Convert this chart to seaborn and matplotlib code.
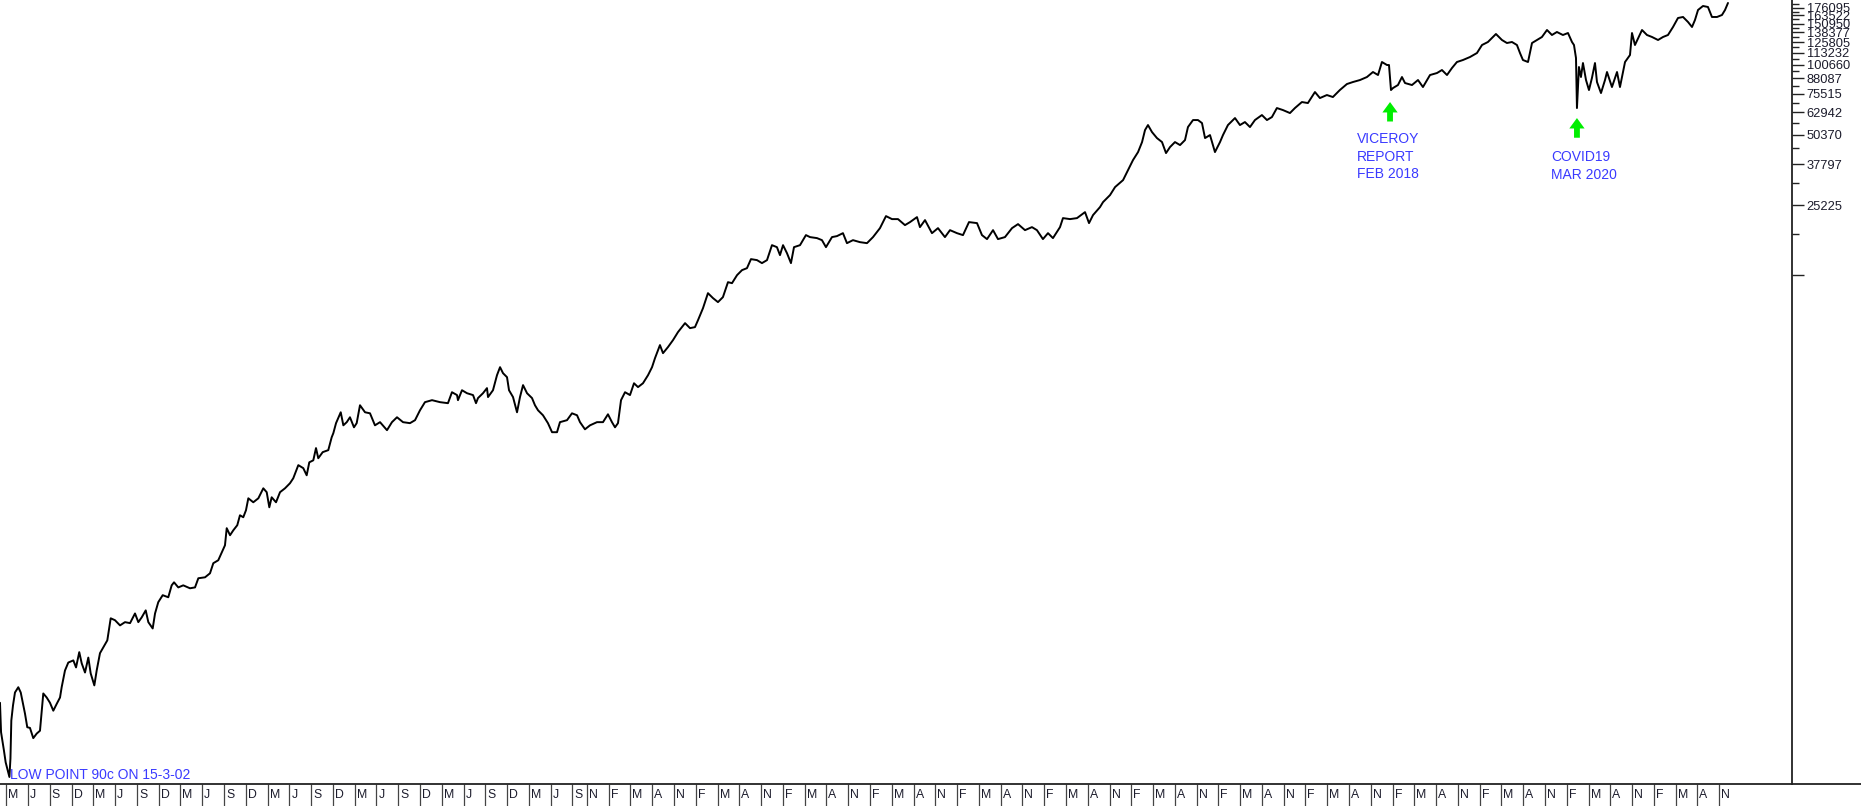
import matplotlib
matplotlib.use("Agg")
import pandas as pd
import matplotlib.pyplot as plt
import matplotlib.transforms as mtransforms
from matplotlib.lines import Line2D
from matplotlib.ticker import FixedLocator, FixedFormatter, NullFormatter
import seaborn as sns

# share price in cents (x = decimal year)
years_0206 = [2002.095, 2002.107, 2002.140, 2002.160, 2002.203, 2002.215, 2002.225, 2002.244, 2002.267, 2002.305,
              2002.333, 2002.363, 2002.382, 2002.408, 2002.439, 2002.477, 2002.516, 2002.554, 2002.574, 2002.592,
              2002.631, 2002.669, 2002.707, 2002.746, 2002.784, 2002.803, 2002.841, 2002.879, 2002.937, 2002.968,
              2003.005, 2003.033, 2003.071, 2003.109, 2003.136, 2003.178, 2003.205, 2003.243, 2003.281, 2003.327,
              2003.366, 2003.415, 2003.473, 2003.530, 2003.588, 2003.645, 2003.683, 2003.722, 2003.768, 2003.798,
              2003.848, 2003.875, 2003.912, 2003.963, 2004.027, 2004.066, 2004.093, 2004.142, 2004.199, 2004.276,
              2004.334, 2004.372, 2004.449, 2004.506, 2004.544, 2004.601, 2004.652, 2004.678, 2004.698, 2004.736,
              2004.774, 2004.819, 2004.850, 2004.888, 2004.919, 2004.946, 2005.003, 2005.061, 2005.118, 2005.157,
              2005.187, 2005.214, 2005.264, 2005.310, 2005.367, 2005.424, 2005.462, 2005.520, 2005.577, 2005.616,
              2005.646, 2005.692, 2005.723, 2005.749, 2005.800, 2005.864, 2005.903, 2005.922, 2005.953, 2006.007,
              2006.037, 2006.076, 2006.113, 2006.159, 2006.190, 2006.228]
price_0206 = [187, 140, 117, 104, 90, 108, 157, 182, 207, 218,
              207, 182, 168, 147, 146, 132, 138, 142, 173, 205,
              197, 187, 173, 185, 197, 218, 257, 278, 284, 265,
              308, 276, 252, 292, 250, 222, 257, 305, 323, 346,
              430, 422, 401, 414, 410, 451, 414, 434, 465, 414,
              389, 451, 504, 540, 529, 595, 613, 583, 595, 578,
              583, 638, 644, 670, 740, 762, 841, 883, 1045, 975,
              1024, 1076, 1187, 1164, 1247, 1403, 1349, 1403, 1548, 1490,
              1284, 1417, 1349, 1490, 1548, 1627, 1709, 1945, 1888, 1760,
              2000, 2040, 2301, 2082, 2211, 2255, 2559, 2665, 2942, 3275,
              2880, 2971, 3118, 2824, 2942, 3510]

years_0610 = [2006.286, 2006.343, 2006.400, 2006.458, 2006.538, 2006.595, 2006.653, 2006.722, 2006.802, 2006.860,
              2006.917, 2006.974, 2007.055, 2007.147, 2007.238, 2007.284, 2007.342, 2007.353, 2007.399, 2007.457,
              2007.526, 2007.560, 2007.583, 2007.640, 2007.686, 2007.698, 2007.755, 2007.801, 2007.836, 2007.870,
              2007.916, 2007.939, 2007.985, 2008.031, 2008.065, 2008.100, 2008.146, 2008.203, 2008.237, 2008.272,
              2008.329, 2008.386, 2008.433, 2008.490, 2008.524, 2008.605, 2008.662, 2008.720, 2008.754, 2008.811,
              2008.869, 2008.949, 2009.018, 2009.075, 2009.121, 2009.156, 2009.190, 2009.225, 2009.271, 2009.328,
              2009.374, 2009.420, 2009.477, 2009.535, 2009.581, 2009.615, 2009.672, 2009.707, 2009.764, 2009.822,
              2009.879, 2009.960, 2010.017, 2010.074, 2010.109, 2010.166, 2010.223, 2010.281, 2010.338, 2010.395,
              2010.453]
price_0610 = [3275, 3242, 2880, 2971, 2745, 2971, 3118, 2971, 2942, 3030,
              3340, 3618, 3690, 3618, 3582, 3991, 3880, 3690, 4070, 3951,
              3880, 3582, 3767, 3951, 4155, 3804, 4070, 4720, 5108, 4815,
              4628, 4070, 3804, 3275, 3804, 4280, 3951, 3767, 3510, 3340,
              3180, 2942, 2691, 2691, 2971, 3030, 3242, 3180, 2971, 2769,
              2880, 2971, 2971, 3211, 2971, 2824, 2942, 3690, 3991, 3880,
              4359, 4197, 4359, 4720, 5108, 5582, 6350, 5864, 6226, 6670,
              7217, 7883, 7504, 7579, 8120, 9135, 10592, 10087, 9697, 10187,
              11805]

years_1014 = [2010.499, 2010.557, 2010.614, 2010.671, 2010.717, 2010.786, 2010.843, 2010.901, 2010.958, 2011.015,
              2011.050, 2011.085, 2011.130, 2011.176, 2011.211, 2011.280, 2011.348, 2011.395, 2011.475, 2011.532,
              2011.578, 2011.647, 2011.704, 2011.773, 2011.819, 2011.888, 2011.968, 2012.049, 2012.118, 2012.198,
              2012.267, 2012.336, 2012.405, 2012.485, 2012.543, 2012.623, 2012.657, 2012.715, 2012.795, 2012.864,
              2012.944, 2013.002, 2013.082, 2013.151, 2013.220, 2013.312, 2013.369, 2013.427, 2013.496, 2013.553,
              2013.633, 2013.714, 2013.783, 2013.863, 2013.943, 2014.000, 2014.069, 2014.127, 2014.184, 2014.265,
              2014.299, 2014.380, 2014.460, 2014.552, 2014.598, 2014.644, 2014.724]
price_1014 = [11688, 12650, 13290, 13552, 14814, 14670, 14242, 14670, 17000, 16669,
              15410, 17000, 15717, 14242, 16669, 17000, 18770, 18404, 18222, 17860,
              16669, 18404, 18584, 19134, 17338, 17860, 17512, 17338, 18404, 20105,
              22634, 21975, 21975, 20710, 21336, 22414, 20306, 21760, 19134, 20105,
              18404, 19710, 19134, 18770, 21336, 21125, 18770, 18044, 19710, 18044,
              18404, 20105, 20918, 19710, 20306, 19710, 18044, 19134, 18222, 20306,
              22192, 21975, 22192, 23542, 21125, 22860, 24733]

years_1418 = [2014.759, 2014.839, 2014.897, 2014.989, 2015.046, 2015.103, 2015.161, 2015.207, 2015.241, 2015.275,
              2015.321, 2015.378, 2015.436, 2015.482, 2015.528, 2015.585, 2015.643, 2015.700, 2015.734, 2015.792,
              2015.849, 2015.895, 2015.930, 2015.987, 2016.044, 2016.102, 2016.136, 2016.193, 2016.274, 2016.331,
              2016.388, 2016.446, 2016.503, 2016.583, 2016.641, 2016.698, 2016.755, 2016.824, 2016.905, 2016.962,
              2017.042, 2017.111, 2017.192, 2017.249, 2017.329, 2017.398, 2017.478, 2017.559, 2017.628, 2017.709,
              2017.789, 2017.858, 2017.916, 2017.961, 2018.019, 2018.042, 2018.065, 2018.088, 2018.145, 2018.191,
              2018.226, 2018.306, 2018.375, 2018.432, 2018.513, 2018.593, 2018.650, 2018.708, 2018.765, 2018.822,
              2018.891, 2018.972, 2019.052, 2019.110, 2019.178]
price_1418 = [25983, 27840, 30126, 32278, 35624, 39315, 42543, 46952, 52848, 55519,
              51818, 48837, 46952, 42122, 44693, 46952, 45582, 47886, 54437, 58325,
              58325, 56622, 48837, 50306, 42543, 46952, 50306, 55519, 59484, 55519,
              57187, 54437, 58325, 61273, 58325, 60078, 65648, 64370, 62490, 65648,
              69656, 68966, 76874, 72452, 74631, 73176, 78403, 83180, 84842, 86529,
              89129, 93634, 90902, 103338, 100322, 100322, 78403, 79961, 82366, 89129,
              84002, 82366, 86529, 80760, 90902, 92707, 95496, 90902, 97393, 103338,
              105393, 108560, 112919, 122193, 125866]

years_1921 = [2019.270, 2019.339, 2019.396, 2019.454, 2019.511, 2019.546, 2019.580, 2019.638, 2019.684, 2019.741,
              2019.798, 2019.856, 2019.913, 2019.970, 2020.039, 2020.097, 2020.143, 2020.166, 2020.189, 2020.200,
              2020.212, 2020.223, 2020.246, 2020.269, 2020.304, 2020.338, 2020.372, 2020.407, 2020.430, 2020.476,
              2020.522, 2020.545, 2020.602, 2020.660, 2020.694, 2020.752, 2020.809, 2020.832, 2020.866, 2020.947,
              2021.004, 2021.062, 2021.131, 2021.188, 2021.245, 2021.303, 2021.360, 2021.418, 2021.475, 2021.521,
              2021.555, 2021.590, 2021.647, 2021.704, 2021.750, 2021.808, 2021.865, 2021.900, 2021.934]
price_1921 = [136190, 128369, 124620, 125866, 122193, 112919, 105393, 103338, 124620, 128369,
              132228, 141672, 134857, 138910, 134857, 137535, 125866, 122193, 107486, 65648,
              80760, 98366, 89129, 102315, 86529, 78403, 88248, 102315, 84842, 76114,
              86529, 93634, 80760, 93634, 80760, 103338, 110719, 137535, 122193, 141672,
              134857, 132228, 128369, 132228, 134857, 145931, 159460, 161054, 153306, 145931,
              156355, 172558, 179485, 177745, 161054, 161054, 164257, 172558, 184887]

# right-hand price scale
ytick_major = [12652, 25225, 37797, 50370, 62942, 75515, 88087, 100660, 113232,
               125805, 138377, 150950, 163522, 176095]
ytick_labels = ["", "25225", "37797", "50370", "62942", "75515", "88087", "100660", "113232",
                "125805", "138377", "150950", "163522", "176095"]
ytick_minor = [18938, 31511, 44084, 56656, 69229, 81801, 94374, 106946, 119519,
               132091, 144664, 157236, 169809, 182381]

# month separators along the bottom
month_letter = {2: "F", 3: "M", 5: "M", 6: "J", 8: "A", 9: "S", 11: "N", 12: "D"}
tick_months = ([(y, m) for y in range(2002, 2008) for m in (3, 6, 9, 12)]
               + [(2008, 3), (2008, 6), (2008, 9), (2008, 11)]
               + [(y, m) for y in range(2009, 2022) for m in (2, 5, 8, 11)])

df = pd.DataFrame({
    "year": years_0206 + years_0610 + years_1014 + years_1418 + years_1921,
    "price": price_0206 + price_0610 + price_1014 + price_1418 + price_1921,
})

sns.set_style("white")
plt.rcParams["font.family"] = ["Liberation Sans", "DejaVu Sans"]

W, H = 1861, 806
fig = plt.figure(figsize=(W / 100, H / 100), dpi=100)
ax = fig.add_axes([0, 22 / H, 1792 / W, 784 / H])

sns.lineplot(data=df, x="year", y="price", ax=ax, color="black", lw=1.4,
             estimator=None, sort=False, legend=False)

ax.set_yscale("log")
ax.set_ylim(84, 190400)
ax.set_xlim(2002.095, 2022.669)
ax.set_xlabel("")
ax.set_ylabel("")

for s in ("left", "top"):
    ax.spines[s].set_visible(False)
for s in ("right", "bottom"):
    ax.spines[s].set_color("#222222")
    ax.spines[s].set_linewidth(1.3)
fig.add_artist(Line2D([1792 / W, 1], [22 / H, 22 / H], color="#222222", lw=1.3))

# y axis on the right
ax.yaxis.tick_right()
ax.yaxis.set_major_locator(FixedLocator(ytick_major))
ax.yaxis.set_major_formatter(FixedFormatter(ytick_labels))
ax.yaxis.set_minor_locator(FixedLocator(ytick_minor))
ax.yaxis.set_minor_formatter(NullFormatter())
ax.tick_params(axis="y", which="both", right=True, left=False)
ax.tick_params(axis="y", which="major", direction="out", length=8.6, width=1.0,
               color="#222222", pad=2, labelsize=9.3, labelcolor="#1c1c2c")
ax.tick_params(axis="y", which="minor", direction="out", length=5, width=1.0, color="#222222")

# x axis: month letters in boxes
tick_pos = [y + (m - 1) / 12 for y, m in tick_months]
ax.set_xticks(tick_pos)
ax.set_xticklabels([month_letter[m] for _, m in tick_months])
ax.xaxis.set_minor_formatter(NullFormatter())
ax.tick_params(axis="x", which="major", bottom=True, direction="out", length=15.8, width=0.9,
               color="#444444", pad=-12, labelsize=8.8, labelcolor="#1c1c2c")
ax.tick_params(axis="x", which="minor", bottom=False)
shift = mtransforms.ScaledTranslation(2 / 100, 0, fig.dpi_scale_trans)
for lbl in ax.get_xticklabels():
    lbl.set_horizontalalignment("left")
    lbl.set_transform(lbl.get_transform() + shift)

# annotations
blue = "#3a3aff"
green = "#00ee00"
ax.text(2002.21, 91.5, "LOW POINT 90c ON 15-3-02", color=blue, fontsize=10, va="center", ha="left")

arrow = dict(arrowstyle="simple,head_length=0.75,head_width=1.1,tail_width=0.42",
             fc=green, ec="none", mutation_scale=10, shrinkA=0, shrinkB=0)
ax.annotate("", xy=(2018.054, 69656), xytext=(2018.054, 57500), arrowprops=arrow)
ax.annotate("", xy=(2020.200, 59484), xytext=(2020.200, 49000), arrowprops=arrow)

ax.text(2017.675, 51800, "VICEROY\nREPORT\nFEB 2018", color=blue, fontsize=10,
        va="top", ha="left", linespacing=1.33)
ax.text(2019.902, 43400, "COVID19\nMAR 2020", color=blue, fontsize=10,
        va="top", ha="left", linespacing=1.33)

fig.savefig("out.png", dpi=100)
